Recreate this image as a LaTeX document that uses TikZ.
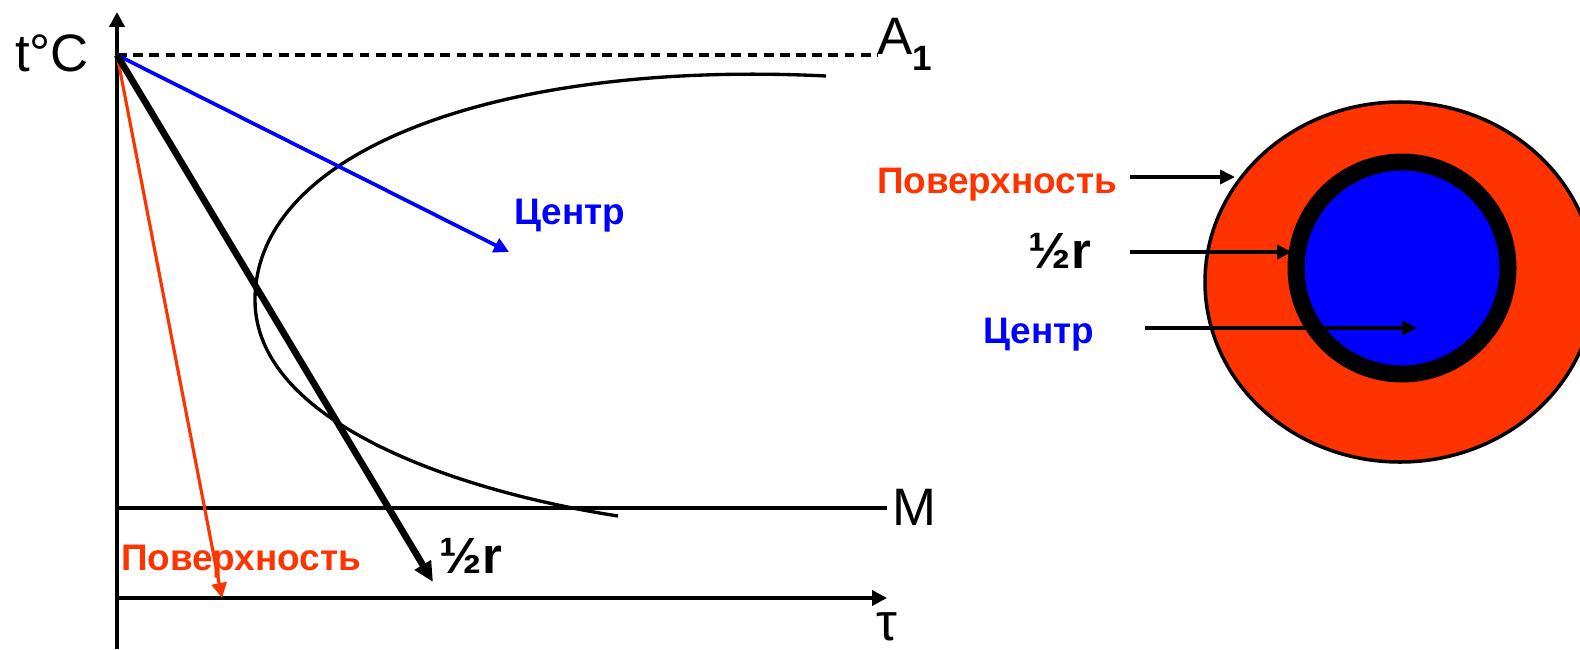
\documentclass[tikz,border=0pt]{standalone}
\usepackage{fontspec}
\setmainfont{Liberation Sans}
\usetikzlibrary{arrows.meta}
\definecolor{hotred}{HTML}{FF3300}
\definecolor{coreblue}{HTML}{0000FF}
\tikzset{
  axisline/.style={line width=1.05pt, draw=black, -{Triangle[length=0.15cm, width=0.15cm]}},
  levelline/.style={line width=1.05pt, draw=black},
  coolarrow/.style={-{Triangle[length=0.15cm, width=0.15cm]}},
  pointer/.style={line width=1pt, draw=black, -{Triangle[length=0.15cm, width=0.14cm]}},
  biglabel/.style={font=\fontsize{15}{15}\selectfont, inner sep=0pt},
  zonelabel/.style={font=\fontsize{10.5}{10.5}\selectfont\bfseries, inner sep=0pt, anchor=base},
  halflabel/.style={font=\fontsize{14.5}{14.5}\selectfont\bfseries, inner sep=0pt, anchor=base},
}

\begin{document}
\begin{tikzpicture}
\clip (0,0) rectangle (15.8,6.49);
% axes and levels
\coordinate (O) at (1.17,5.94);
\coordinate (ybot) at (1.17,0);
\coordinate (ytop) at (1.17,6.37);
\coordinate (xstart) at (1.17,0.51);
\coordinate (xend) at (8.87,0.51);
\coordinate (mstart) at (1.17,1.41);
\coordinate (mend) at (8.87,1.41);
\coordinate (aend) at (8.78,5.94);
\draw[axisline] (ybot) -- (ytop);
\draw[axisline] (xstart) -- (xend);
\draw[levelline] (mstart) -- (mend);
\draw[line width=0.9pt, dash pattern=on 2.8pt off 1.8pt] (O) -- (aend);
\node[biglabel, anchor=base] (tC) at (0.52,5.77) {t°C};
\node[biglabel, anchor=base west] (A1) at (8.77,5.94) {A\raisebox{-0.3em}{\fontsize{10}{10}\selectfont\bfseries 1}};
\node[biglabel, anchor=base west] (M) at (8.92,1.24) {M};
\node[biglabel, anchor=base] (tau) at (8.87,0.09) {τ};
% C-curve
\draw[line width=0.95pt] (8.26,5.73) .. controls (5.00,5.89) and (2.55,4.99) .. (2.55,3.49)
  .. controls (2.55,2.29) and (4.50,1.59) .. (6.18,1.33);
% cooling curves
\coordinate (tipS) at (2.22,0.51);
\coordinate (tipH) at (4.33,0.67);
\coordinate (tipC) at (5.09,3.97);
\draw[coolarrow, hotred, line width=0.9pt] (O) -- (tipS);
\draw[coolarrow, coreblue, line width=1.05pt] (O) -- (tipC);
\draw[line width=1.9pt, -{Triangle[length=0.2cm, width=0.18cm]}] (O) -- (tipH);
\node[zonelabel, text=hotred] (surf1) at (2.41,0.79) {Поверхность};
\node[zonelabel, text=coreblue] (cent1) at (5.70,4.25) {Центр};
\node[halflabel] (half1) at (4.71,0.76) {½r};
% cross-section
\filldraw[fill=hotred, draw=black, line width=1pt] (14.00,3.67) ellipse (1.95 and 1.80);
\filldraw[fill=coreblue, draw=black, line width=0.17cm] (14.02,3.81) circle (1.06);
\coordinate (sfrom) at (11.30,4.72);
\coordinate (sto) at (12.35,4.72);
\coordinate (hfrom) at (11.30,3.97);
\coordinate (hto) at (12.92,3.97);
\coordinate (cfrom) at (11.45,3.21);
\coordinate (cto) at (14.17,3.21);
\draw[pointer] (sfrom) -- (sto);
\draw[pointer] (hfrom) -- (hto);
\draw[pointer] (cfrom) -- (cto);
\node[zonelabel, text=hotred] (surf2) at (9.97,4.56) {Поверхность};
\node[halflabel] (half2) at (10.60,3.81) {½r};
\node[zonelabel, text=coreblue] (cent2) at (10.39,3.06) {Центр};
\end{tikzpicture}
\end{document}
